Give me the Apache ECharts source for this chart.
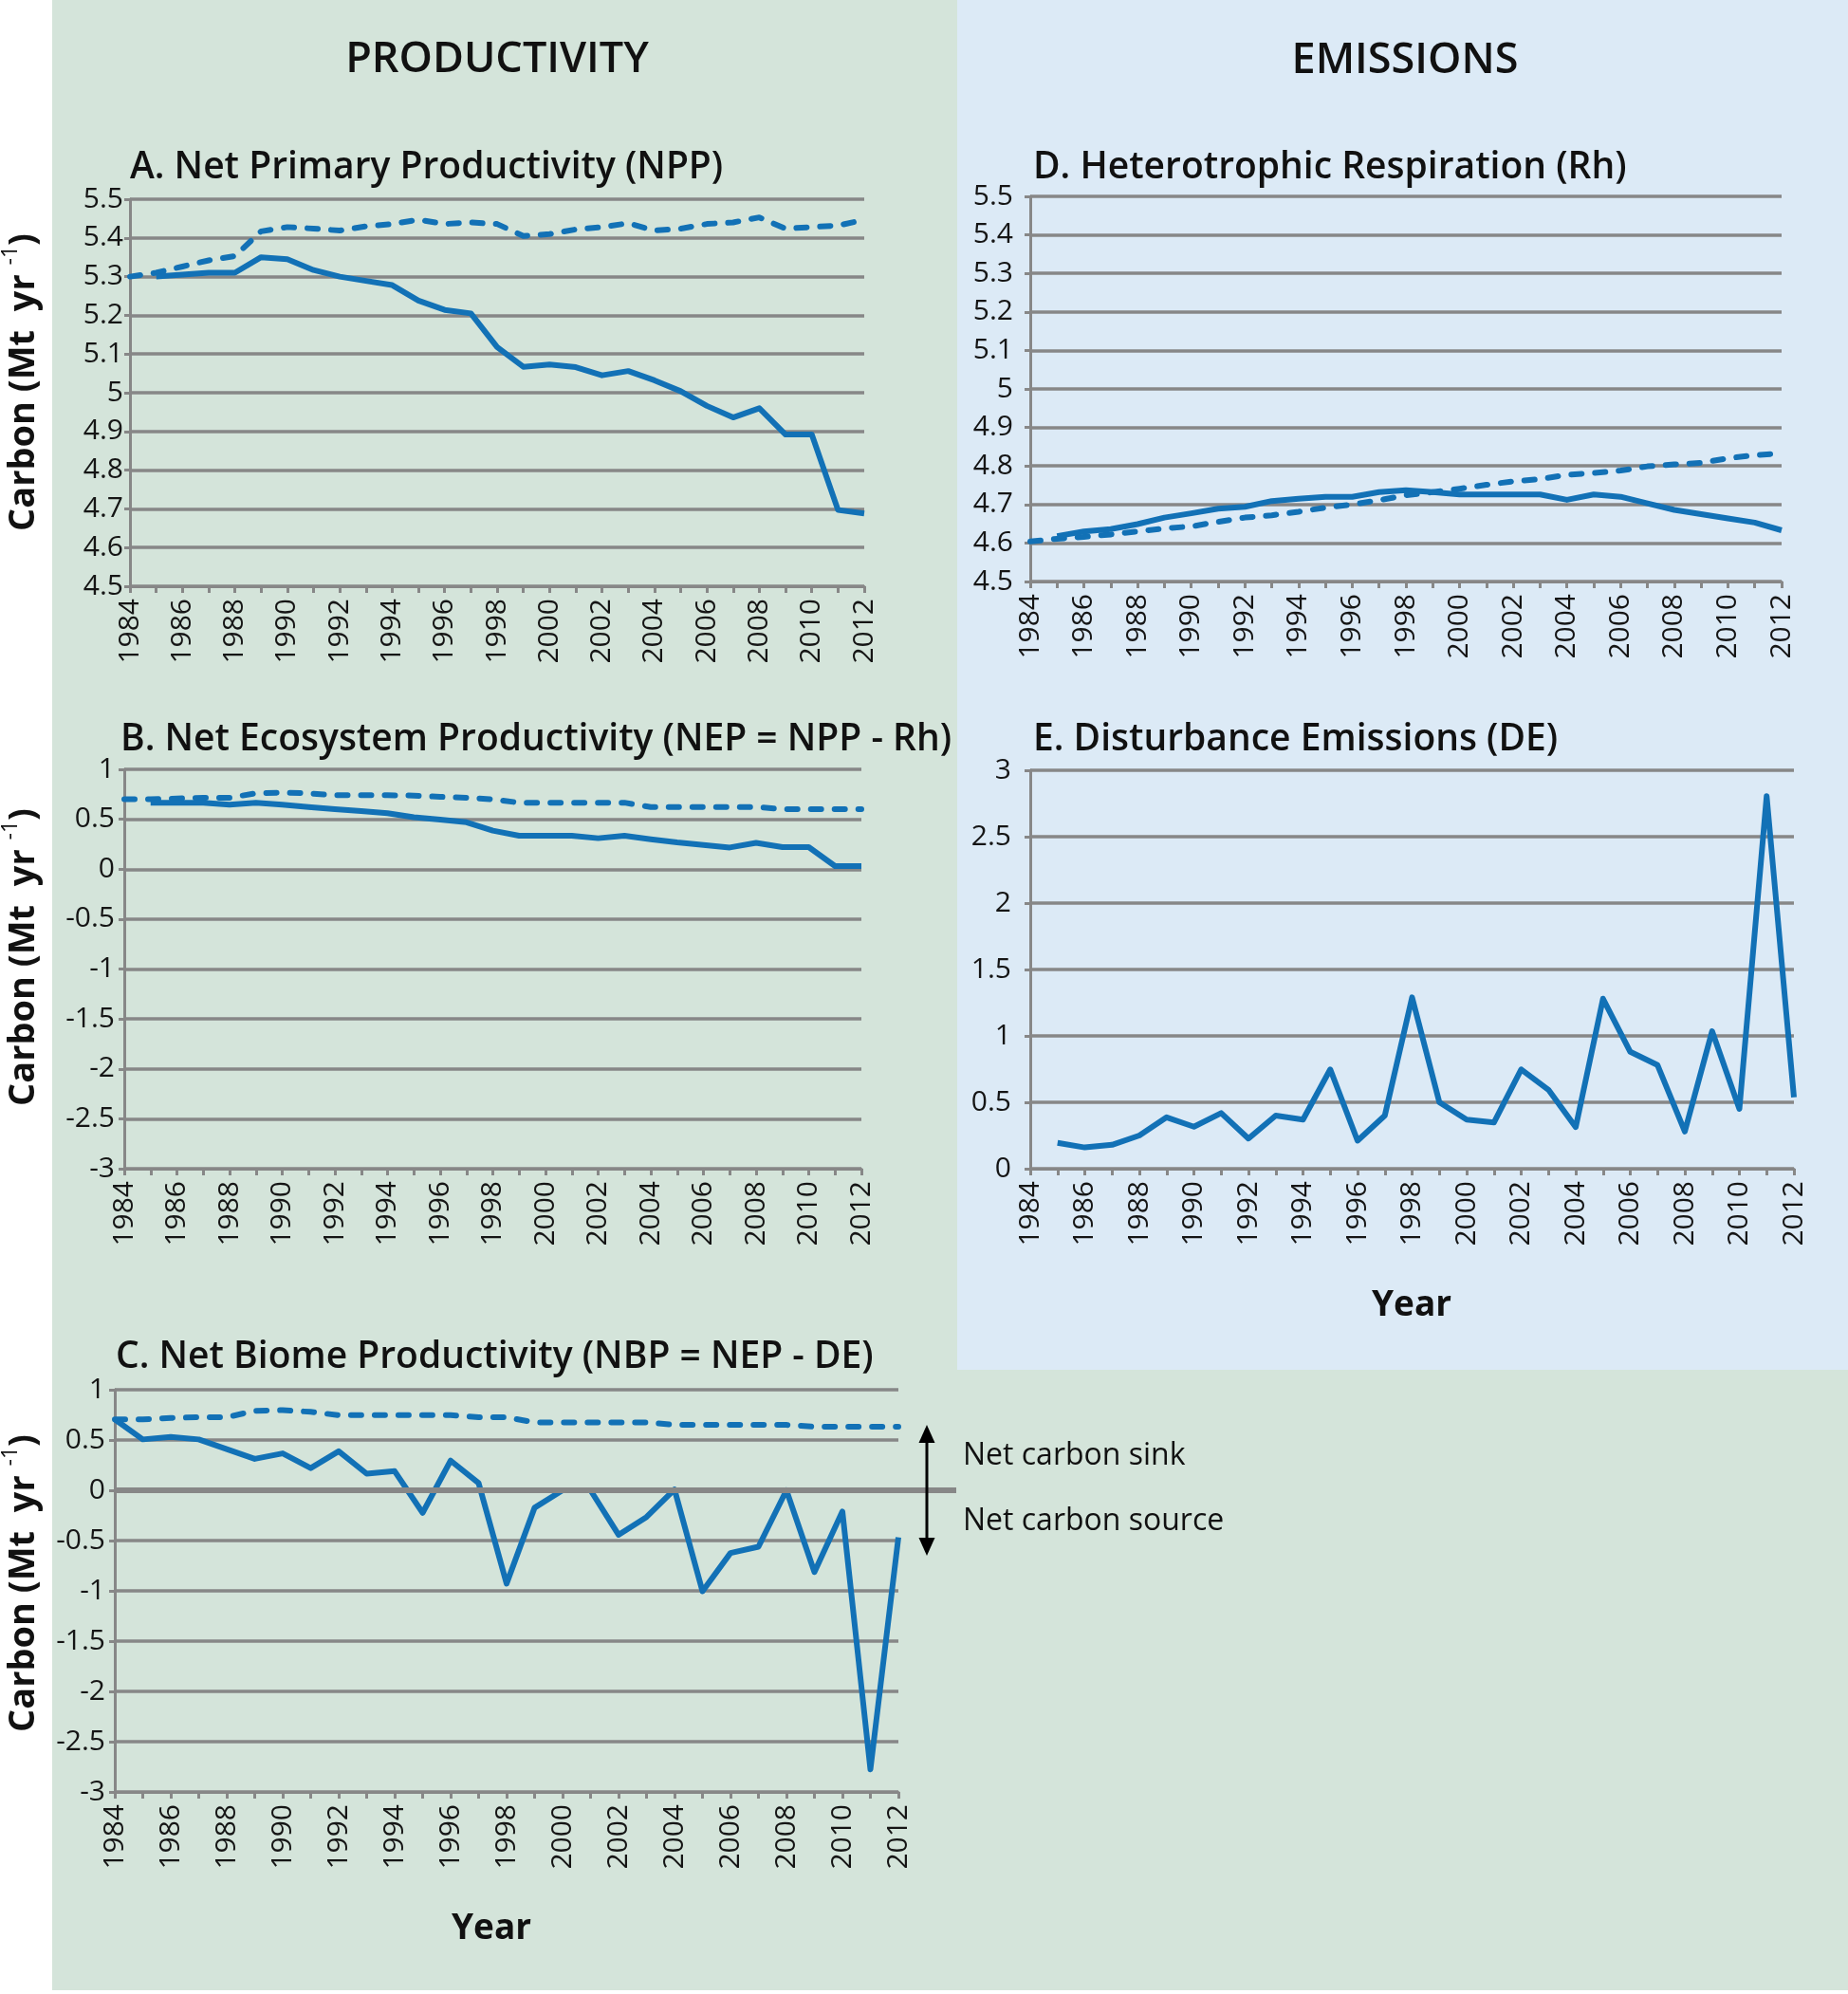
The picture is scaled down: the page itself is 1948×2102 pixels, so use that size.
<!DOCTYPE html>
<html><head><meta charset="utf-8">
<script src="https://cdn.jsdelivr.net/npm/echarts@6/dist/echarts.min.js"></script>
<style>html,body{margin:0;padding:0;background:#fff}#c{width:1948px;height:2102px}</style>
</head><body><div id="c"></div>
<script>
// ---------- DATA ----------
const years = ['1984','1985','1986','1987','1988','1989','1990','1991','1992','1993','1994','1995','1996','1997','1998','1999','2000','2001','2002','2003','2004','2005','2006','2007','2008','2009','2010','2011','2012'];

// A. NPP
const nppActual = [null,5.30,5.305,5.31,5.31,5.35,5.345,5.317,5.30,5.289,5.278,5.238,5.214,5.205,5.118,5.067,5.073,5.066,5.045,5.056,5.032,5.004,4.966,4.936,4.96,4.892,4.892,4.697,4.688];
const nppNoDist = [5.30,5.31,5.326,5.342,5.353,5.417,5.428,5.424,5.419,5.43,5.436,5.447,5.436,5.44,5.436,5.405,5.41,5.422,5.428,5.438,5.419,5.424,5.436,5.44,5.453,5.424,5.428,5.432,5.447];
// D. Rh
const rhActual = [null,4.618,4.63,4.636,4.649,4.666,4.677,4.689,4.694,4.709,4.715,4.72,4.72,4.732,4.737,4.732,4.726,4.726,4.726,4.726,4.712,4.726,4.72,4.703,4.686,4.675,4.664,4.653,4.633];
const rhNoDist = [4.604,4.611,4.616,4.622,4.63,4.638,4.643,4.655,4.666,4.672,4.681,4.692,4.70,4.711,4.724,4.732,4.741,4.751,4.76,4.766,4.777,4.782,4.788,4.799,4.804,4.808,4.82,4.828,4.833];
// B. NEP
const nepActual = [null,0.666,0.666,0.666,0.645,0.666,0.645,0.623,0.602,0.581,0.56,0.52,0.496,0.47,0.386,0.335,0.335,0.335,0.31,0.335,0.30,0.268,0.242,0.217,0.263,0.221,0.221,0.031,0.031];
const nepNoDist = [0.70,0.70,0.708,0.716,0.716,0.76,0.767,0.76,0.74,0.74,0.74,0.737,0.725,0.716,0.70,0.666,0.666,0.666,0.666,0.666,0.623,0.623,0.623,0.623,0.623,0.602,0.602,0.602,0.602];
// E. DE
const deActual = [null,0.195,0.16,0.18,0.25,0.387,0.316,0.419,0.227,0.40,0.37,0.748,0.211,0.40,1.29,0.50,0.37,0.348,0.748,0.594,0.313,1.28,0.88,0.78,0.28,1.035,0.45,2.805,0.537];
// C. NBP
const nbpActual = [0.705,0.506,0.53,0.506,0.41,0.312,0.367,0.22,0.388,0.165,0.19,-0.224,0.295,0.072,-0.928,-0.173,0.0,0.0,-0.443,-0.266,0.008,-1.004,-0.624,-0.561,0.0,-0.814,-0.211,-2.776,-0.468];
const nbpNoDist = [0.705,0.705,0.72,0.726,0.726,0.79,0.797,0.78,0.747,0.747,0.747,0.747,0.747,0.726,0.726,0.675,0.675,0.675,0.675,0.675,0.65,0.65,0.65,0.65,0.65,0.633,0.633,0.633,0.633];

const panelTitles = ['A. Net Primary Productivity (NPP)','D. Heterotrophic Respiration (Rh)','B. Net Ecosystem Productivity (NEP = NPP - Rh)','E. Disturbance Emissions (DE)','C. Net Biome Productivity (NBP = NEP - DE)'];

// ---------- STYLE ----------
const FONT = '"Open Sans", "Noto Sans", sans-serif';
const GRID = '#878787';
const LINE = '#1271b6';
const GREEN = '#d4e4da';
const BLUE = '#dceaf6';

// grid boxes: [left, top, right, bottom]
const boxes = [
  [137, 210, 911, 618],    // A
  [1086, 207, 1878, 613],  // D
  [131, 811, 908, 1232],   // B
  [1086, 812, 1891, 1232], // E
  [121, 1465, 947, 1889]   // C
];
const yLabelMargin = [7, 18, 10, 20, 10];
const yRanges = [[4.5,5.5,0.1],[4.5,5.5,0.1],[-3,1,0.5],[0,3,0.5],[-3,1,0.5]];
const seriesSets = [[nppNoDist,nppActual],[rhNoDist,rhActual],[nepNoDist,nepActual],[null,deActual],[nbpNoDist,nbpActual]];

const grid = [], xAxis = [], yAxis = [], series = [];
boxes.forEach((b, i) => {
  grid.push({left: b[0], top: b[1], width: b[2]-b[0], height: b[3]-b[1], containLabel: false, outerBoundsMode: 'none'});
  xAxis.push({
    type: 'category', gridIndex: i, data: years, boundaryGap: false,
    axisLine: {show: true, onZero: false, lineStyle: {color: GRID, width: 3}},
    axisTick: {show: true, interval: 0, length: 7, lineStyle: {color: GRID, width: 3}},
    axisLabel: {interval: 1, rotate: 90, fontSize: 30, color: '#151515', fontFamily: FONT, margin: 13},
    splitLine: {show: false}
  });
  yAxis.push({
    type: 'value', gridIndex: i, min: yRanges[i][0], max: yRanges[i][1], interval: yRanges[i][2],
    axisLine: {show: true, lineStyle: {color: GRID, width: 3}},
    axisTick: {show: true, length: 6, lineStyle: {color: GRID, width: 3}},
    axisLabel: {fontSize: 30, color: '#151515', fontFamily: FONT, margin: yLabelMargin[i],
      formatter: v => String(Math.round(v*10)/10)},
    splitLine: {show: true, lineStyle: {color: GRID, width: 3.5}}
  });
  const [dash, solid] = seriesSets[i];
  if (dash) series.push({type: 'line', xAxisIndex: i, yAxisIndex: i, data: dash, symbol: 'none', silent: true,
    lineStyle: {color: LINE, width: 6, type: [11, 14], cap: 'round', join: 'round'}, z: 3});
  series.push({type: 'line', xAxisIndex: i, yAxisIndex: i, data: solid, symbol: 'none', silent: true, connectNulls: false,
    lineStyle: {color: LINE, width: 6, type: 'solid', cap: 'butt', join: 'round'}, z: 4});
});

const titlePos = [[137,177],[1089,177],[127,780],[1089,780],[122,1431]];
const graphics = [
  {type: 'rect', z: -100, shape: {x: 55, y: 0, width: 1893, height: 2098}, style: {fill: GREEN}},
  {type: 'rect', z: -99, shape: {x: 1009, y: 0, width: 939, height: 1444}, style: {fill: BLUE}},
  {type: 'text', x: 524, y: 63, style: {text: 'PRODUCTIVITY', font: '600 45px ' + FONT, fill: '#111', align: 'center', verticalAlign: 'middle'}},
  {type: 'text', x: 1481, y: 64, style: {text: 'EMISSIONS', font: '600 45px ' + FONT, fill: '#111', align: 'center', verticalAlign: 'middle'}},
  {type: 'text', x: 1488, y: 1376, style: {text: 'Year', font: '700 37px ' + FONT, fill: '#111', align: 'center', verticalAlign: 'middle'}},
  {type: 'text', x: 518, y: 2033, style: {text: 'Year', font: '700 37px ' + FONT, fill: '#111', align: 'center', verticalAlign: 'middle'}}
];
panelTitles.forEach((t, i) => {
  graphics.push({type: 'text', x: titlePos[i][0], y: titlePos[i][1],
    style: {text: t, font: '600 39px ' + FONT, fill: '#111', align: 'left', verticalAlign: 'middle'}});
});
[403, 1009, 1669].forEach(cy => {
  graphics.push({type: 'text', x: 22, y: cy, rotation: Math.PI/2,
    style: {text: '{a|Carbon (Mt  yr }{s|-1}{a|)}', align: 'center', verticalAlign: 'middle', fill: '#111',
      rich: {a: {fontSize: 38, fontWeight: 700, fontFamily: FONT, lineHeight: 44, verticalAlign: 'bottom'},
             s: {fontSize: 23, fontWeight: 400, fontFamily: FONT, lineHeight: 44, verticalAlign: 'top'}}}});
});

const chart = echarts.init(document.getElementById('c'), null, {renderer: 'canvas'});
chart.setOption({
  backgroundColor: '#ffffff', animation: false,
  textStyle: {fontFamily: FONT},
  grid, xAxis, yAxis, series,
  graphic: {elements: graphics}
});

// zero line & annotation for panel C, placed via the axis scale
const p0 = chart.convertToPixel({xAxisIndex: 4, yAxisIndex: 4}, [0, 0]);
const y0 = p0[1], xl = p0[0], ax = 977;
chart.setOption({graphic: {elements: graphics.concat([
  {type: 'line', z: 5, shape: {x1: xl, y1: y0, x2: 1008, y2: y0}, style: {stroke: GRID, lineWidth: 6}},
  {type: 'line', z: 6, shape: {x1: ax, y1: y0 - 55, x2: ax, y2: y0 + 55}, style: {stroke: '#000', lineWidth: 3}},
  {type: 'polygon', z: 6, shape: {points: [[ax, y0 - 69], [ax - 8.5, y0 - 50], [ax + 8.5, y0 - 50]]}, style: {fill: '#000'}},
  {type: 'polygon', z: 6, shape: {points: [[ax, y0 + 69], [ax - 8.5, y0 + 50], [ax + 8.5, y0 + 50]]}, style: {fill: '#000'}},
  {type: 'text', z: 6, x: 1015, y: y0 - 36, style: {text: 'Net carbon sink', font: '400 32px ' + FONT, fill: '#111', align: 'left', verticalAlign: 'middle'}},
  {type: 'text', z: 6, x: 1015, y: y0 + 33, style: {text: 'Net carbon source', font: '400 32px ' + FONT, fill: '#111', align: 'left', verticalAlign: 'middle'}}
])}});
</script>
</body></html>
